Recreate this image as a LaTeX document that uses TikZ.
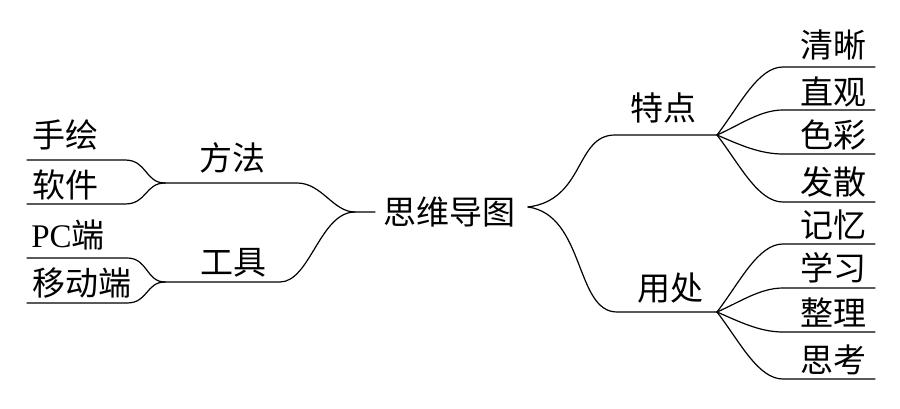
\documentclass[tikz,border=0pt]{standalone}
\usepackage{fontspec}
\setmainfont{Liberation Serif}
\newfontfamily\cjk{Noto Sans CJK SC}
\begin{document}
\begin{tikzpicture}[x=1pt,y=-1pt,
  txt/.style={inner sep=0pt,font=\fontsize{33}{37}\selectfont\cjk},
  branch/.style={line width=1.2pt,line cap=round,line join=round}]
\useasboundingbox (0,0) rectangle (900,409);
% texts
\node[txt] (root) at (449,212) {思维导图};
\node[txt] (ff) at (232,158) {方法};
\node[txt] (gj) at (233,263) {工具};
\node[txt] (sh) at (65,135) {手绘};
\node[txt] (rj) at (65,185) {软件};
\node[txt] (pc) at (68,235) {{\fontsize{33}{37}\selectfont\rmfamily PC}端};
\node[txt] (yd) at (82,283) {移动端};
\node[txt] (td) at (663,108) {特点};
\node[txt] (yc) at (670,288) {用处};
\node[txt] (qx) at (833,45) {清晰};
\node[txt] (zg) at (833,92) {直观};
\node[txt] (sc) at (833,135) {色彩};
\node[txt] (fs) at (833,182) {发散};
\node[txt] (jy) at (833,225) {记忆};
\node[txt] (xx) at (833,268) {学习};
\node[txt] (zl) at (833,313) {整理};
\node[txt] (sk) at (833,360) {思考};
% junctions
\coordinate (rl) at (375,212);
\coordinate (rh) at (355,212);
\coordinate (rr) at (528,207);
\coordinate (jff) at (165,183);
\coordinate (jgj) at (165,282);
\coordinate (jtd) at (717,135);
\coordinate (jyc) at (717,312);
% leaf underline ends
\coordinate (esh) at (27,160);
\coordinate (erj) at (27,204);
\coordinate (epc) at (27,258);
\coordinate (eyd) at (27,303);
\coordinate (eqx) at (875,67);
\coordinate (ezg) at (875,110);
\coordinate (esc) at (875,154);
\coordinate (efs) at (875,202);
\coordinate (ejy) at (875,244);
\coordinate (exx) at (875,288);
\coordinate (ezl) at (875,332);
\coordinate (esk) at (875,379);
% left side
\draw[branch] (rl) -- (rh) .. controls (333,212) and (322,183) .. (297,183) -- (jff);
\draw[branch] (rh) .. controls (320,212) and (310,282) .. (280,282) -- (jgj);
\draw[branch] (jff) .. controls (145,183) and (147,160) .. (125,160) -- (esh);
\draw[branch] (jff) .. controls (145,183) and (147,204) .. (125,204) -- (erj);
\draw[branch] (jgj) .. controls (146,282) and (148,258) .. (127,258) -- (epc);
\draw[branch] (jgj) .. controls (146,282) and (148,303) .. (127,303) -- (eyd);
% right side
\draw[branch] (rr) .. controls (585,200) and (575,135) .. (615,135) -- (jtd);
\draw[branch] (rr) .. controls (585,215) and (575,312) .. (617,312) -- (jyc);
\draw[branch] (jtd) .. controls (740,105) and (758,67) .. (783,67) -- (eqx);
\draw[branch] (jtd) .. controls (740,125) and (760,110) .. (783,110) -- (ezg);
\draw[branch] (jtd) .. controls (740,145) and (760,154) .. (783,154) -- (esc);
\draw[branch] (jtd) .. controls (740,165) and (758,202) .. (783,202) -- (efs);
\draw[branch] (jyc) .. controls (740,282) and (758,244) .. (783,244) -- (ejy);
\draw[branch] (jyc) .. controls (740,302) and (760,288) .. (783,288) -- (exx);
\draw[branch] (jyc) .. controls (740,322) and (760,332) .. (783,332) -- (ezl);
\draw[branch] (jyc) .. controls (740,342) and (758,379) .. (783,379) -- (esk);
\end{tikzpicture}
\end{document}
